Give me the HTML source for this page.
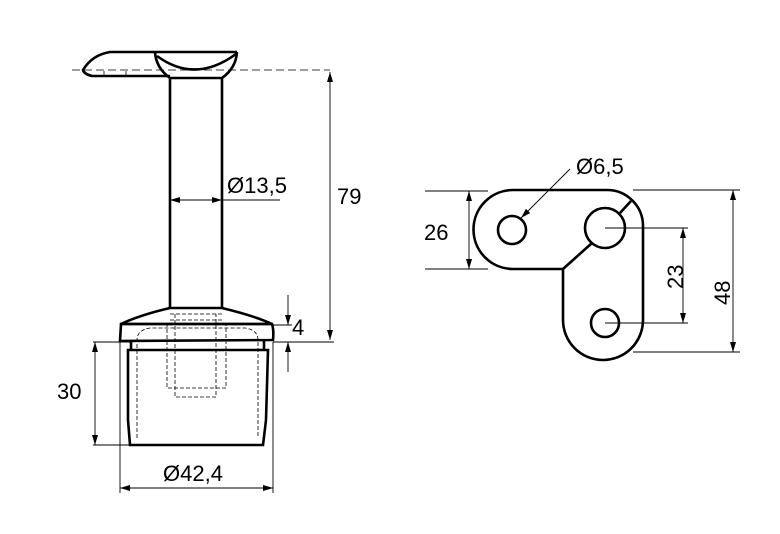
<!DOCTYPE html>
<html><head><style>body{margin:0;background:#fff}svg{display:block}</style></head><body>
<svg width="780" height="534" viewBox="0 0 780 534" xmlns="http://www.w3.org/2000/svg" font-family="Liberation Sans, sans-serif" font-size="22">
<defs>
<marker id="a" viewBox="0 0 10 6" refX="10" refY="3" markerWidth="10" markerHeight="6" orient="auto-start-reverse" markerUnits="userSpaceOnUse"><path d="M0,0L10,3L0,6z" fill="#000"/></marker>
</defs>
<g fill="none" stroke="#000">
<line x1="72" y1="70" x2="330" y2="70" stroke-width="0.8" stroke-dasharray="8,4"/>
<path d="M170,76 L92,76 Q84,74 83,70 Q92,55 110,52 L237,52" stroke-width="2.6"/>
<path d="M155,52 Q156,68 170,78 L222,78 Q236,68 237,52" stroke-width="2.6"/>
<path d="M157,56 Q195,84 236,54" stroke-width="2.6"/>
<line x1="104" y1="71" x2="104" y2="76" stroke-width="0.8"/><line x1="126" y1="71" x2="126" y2="76" stroke-width="0.8"/>
<line x1="170" y1="78" x2="170" y2="308" stroke-width="2.6"/>
<line x1="222" y1="78" x2="222" y2="308" stroke-width="2.6"/>
<path d="M170,308 L222,308 Q255,316 272,324 L121,324 Q140,315 170,308z" stroke-width="2.6"/>
<path d="M121,324 L272,324 Q274,330 273,340 L120,341 Z" stroke-width="2.6"/>
<path d="M131,341 L131,350 M264,341 L264,350" stroke-width="2.6"/>
<path d="M128,350 L268,350 L266,420 L263,445 L130,445 L128,420 Z" stroke-width="2.6"/>
<g stroke-width="0.8" stroke-dasharray="4,2">
<path d="M137,438 L137,340 Q137,330 150,328 L245,328 Q258,330 258,340 L258,438"/>
<path d="M167,323 L167,388 L226,388 L226,323"/>
<path d="M175,314 L175,397 L216,397 L216,314"/>
<line x1="170" y1="314" x2="222" y2="314"/><line x1="170" y1="320" x2="222" y2="320"/>
</g>
<g stroke-width="0.9">
<line x1="330" y1="72" x2="330" y2="340" marker-start="url(#a)" marker-end="url(#a)"/>
<line x1="273" y1="342" x2="334" y2="342"/>
<line x1="272" y1="325" x2="292" y2="325"/>
<line x1="288" y1="295" x2="288" y2="325" marker-end="url(#a)"/>
<line x1="288" y1="372" x2="288" y2="342" marker-end="url(#a)"/>
<line x1="170" y1="200" x2="222" y2="200" marker-start="url(#a)" marker-end="url(#a)"/>
<line x1="222" y1="200" x2="280" y2="200"/>
<line x1="93" y1="342" x2="130" y2="342"/>
<line x1="93" y1="445" x2="130" y2="445"/>
<line x1="95" y1="342" x2="95" y2="445" marker-start="url(#a)" marker-end="url(#a)"/>
<line x1="120" y1="342" x2="120" y2="493"/><line x1="273" y1="342" x2="273" y2="493"/>
<line x1="120" y1="488" x2="273" y2="488" marker-start="url(#a)" marker-end="url(#a)"/>
</g>
<path d="M513,190 L607,190 A36,36 0 0 1 643,226 L643,320 A38,38 0 0 1 563,320 L563,269 L513,269 A39.5,39.5 0 0 1 513,190 Z" stroke-width="2.6"/>
<path d="M563,269 L592,243 M620,213 L631,201" stroke-width="2.6"/>
<circle cx="605" cy="228" r="20" stroke-width="2.6"/>
<circle cx="512" cy="230" r="14" stroke-width="2.6"/>
<circle cx="605" cy="323" r="14" stroke-width="2.6"/>
<g stroke-width="0.9">
<line x1="425" y1="191" x2="488" y2="191"/><line x1="425" y1="269" x2="488" y2="269"/>
<line x1="469" y1="191" x2="469" y2="269" marker-start="url(#a)" marker-end="url(#a)"/>
<line x1="570" y1="169" x2="521" y2="218" marker-end="url(#a)"/>
<line x1="605" y1="228" x2="688" y2="228"/><line x1="605" y1="323" x2="688" y2="323"/>
<line x1="683" y1="228" x2="683" y2="323" marker-start="url(#a)" marker-end="url(#a)"/>
<line x1="633" y1="190" x2="740" y2="190"/><line x1="633" y1="352" x2="740" y2="352"/>
<line x1="733" y1="190" x2="733" y2="352" marker-start="url(#a)" marker-end="url(#a)"/>
</g>
</g>
<g fill="#000">
<text x="337" y="204">79</text>
<text x="227" y="193">Ø13,5</text>
<text x="292" y="335">4</text>
<text x="57" y="399">30</text>
<text x="163" y="481">Ø42,4</text>
<text x="424" y="240">26</text>
<text x="576" y="174">Ø6,5</text>
<text transform="translate(683,289) rotate(-90)">23</text>
<text transform="translate(730,305) rotate(-90)">48</text>
</g>
</svg>
</body></html>
